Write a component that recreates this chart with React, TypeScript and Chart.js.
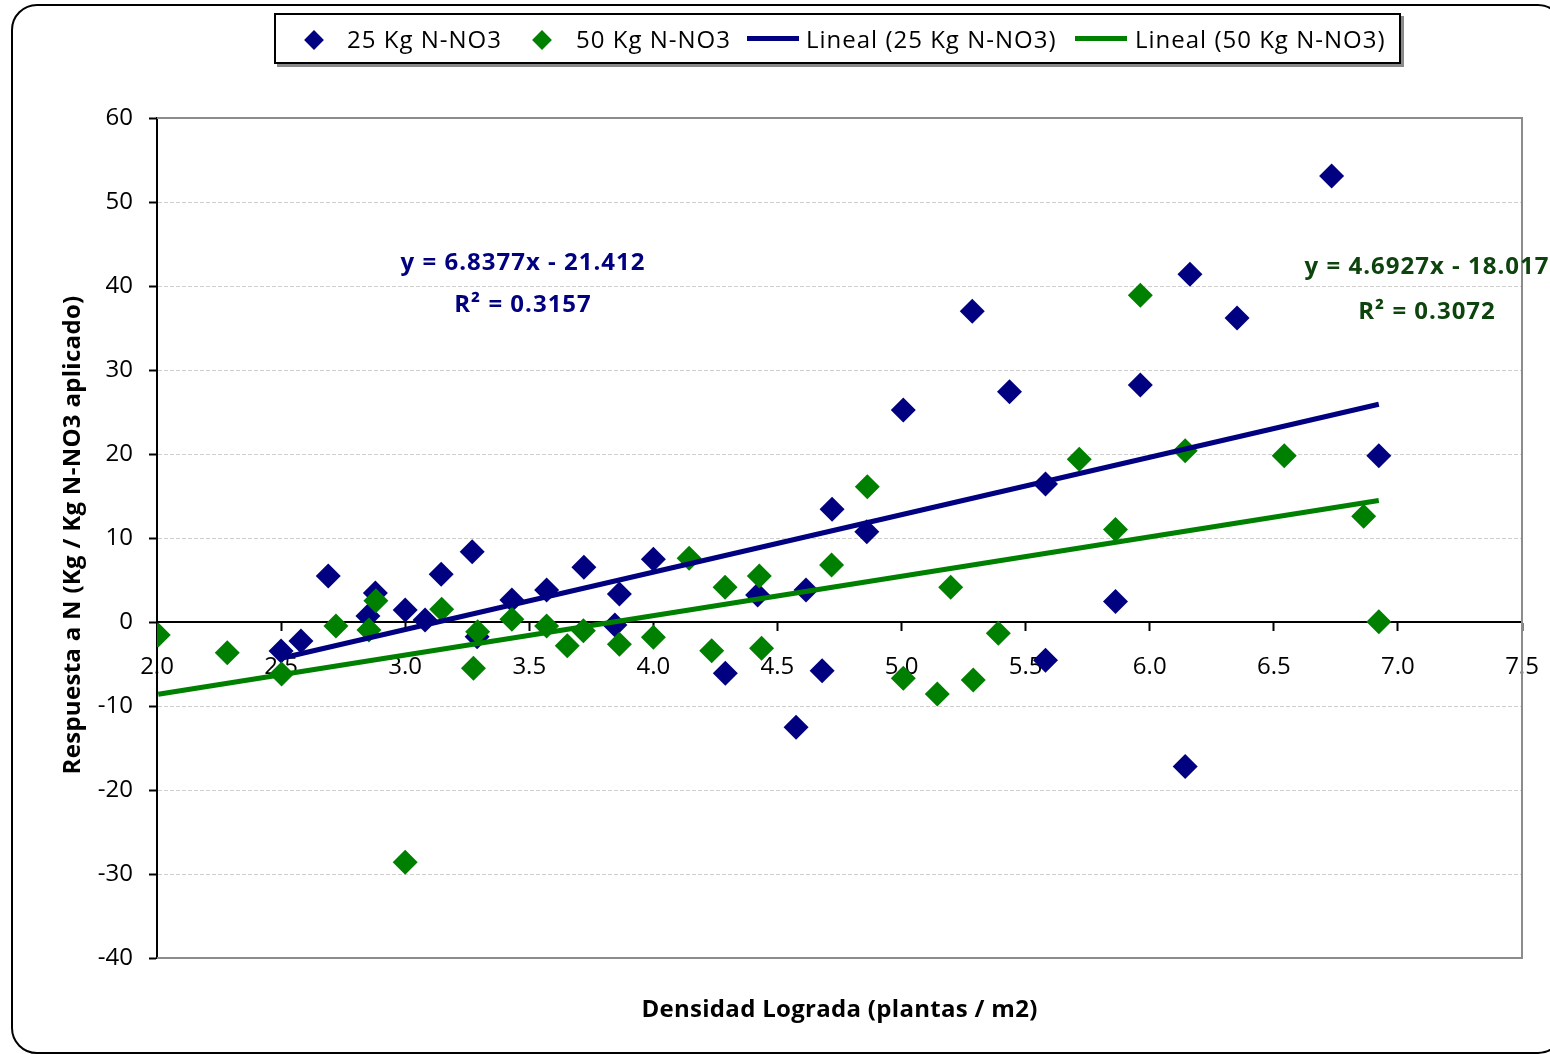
import React, { useEffect, useRef } from "react";
import { Chart, registerables } from "chart.js";

Chart.register(...registerables);

// ---- data ----
const series25X = [2.50, 2.58, 2.69, 2.85, 2.88, 3.00, 3.08, 3.145, 3.27, 3.29, 3.43, 3.57, 3.72, 3.845, 3.863, 4.00, 4.29, 4.42, 4.575, 4.615, 4.68, 4.72, 4.86, 5.007, 5.285, 5.435, 5.58, 5.58, 5.862, 5.962, 6.143, 6.162, 6.352, 6.733, 6.923];
const series25Y = [-3.45, -2.26, 5.48, 0.71, 3.45, 1.43, 0.24, 5.67, 8.37, -1.75, 2.62, 3.81, 6.51, -0.36, 3.33, 7.46, -6.11, 3.21, -12.54, 3.81, -5.79, 13.41, 10.75, 25.24, 37.0, 27.4, 16.43, -4.55, 2.44, 28.2, -17.2, 41.4, 36.2, 53.1, 19.8];

const series50X = [2.005, 2.283, 2.502, 2.721, 2.854, 2.882, 3.0, 3.147, 3.275, 3.292, 3.43, 3.57, 3.653, 3.718, 3.863, 4.0, 4.144, 4.235, 4.289, 4.427, 4.436, 4.718, 4.862, 5.007, 5.144, 5.198, 5.289, 5.39, 5.716, 5.862, 5.962, 6.143, 6.542, 6.862, 6.923];
const series50Y = [-1.55, -3.65, -6.19, -0.48, -0.95, 2.54, -28.6, 1.51, -5.5, -1.15, 0.32, -0.48, -2.82, -1.03, -2.66, -1.83, 7.58, -3.41, 4.13, 5.48, -3.13, 6.79, 16.11, -6.71, -8.57, 4.13, -6.9, -1.35, 19.37, 11.0, 38.9, 20.4, 19.8, 12.6, 0.02];

const trend25 = [6.8377, -21.412]; // slope, intercept
const trend50 = [4.6927, -18.017];

const seriesLabels = ["25 Kg N-NO3", "50 Kg N-NO3", "Lineal (25 Kg N-NO3)", "Lineal (50 Kg N-NO3)"];
const eqLabels25 = ["y = 6.8377x - 21.412", "R² = 0.3157"];
const eqLabels50 = ["y = 4.6927x - 18.017", "R² = 0.3072"];
const xAxisTitle = "Densidad Lograda (plantas / m2)";
const yAxisTitle = "Respuesta a N (Kg / Kg N-NO3 aplicado)";
const xRange = [2, 7.5, 0.5];
const yRange = [-40, 60, 10];

const BLUE = "#000080";
const GREEN = "#008000";
const EQ_GREEN = "#0d430d";
const FONT = "'Open Sans', 'Noto Sans', sans-serif";

function trendPoints(xs: number[], coef: number[]) {
  const lo = Math.min(...xs);
  const hi = Math.max(...xs);
  return [
    { x: lo, y: coef[0] * lo + coef[1] },
    { x: hi, y: coef[0] * hi + coef[1] },
  ];
}

const decorPlugin = {
  id: "decor",
  beforeDatasetsDraw(chart: any) {
    const { ctx, chartArea: a } = chart;
    ctx.save();
    ctx.strokeStyle = "#8c8c8c";
    ctx.lineWidth = 2;
    ctx.beginPath();
    ctx.moveTo(a.left, a.top);
    ctx.lineTo(a.right, a.top);
    ctx.lineTo(a.right, a.bottom);
    ctx.lineTo(a.left, a.bottom);
    ctx.stroke();
    ctx.restore();
  },
  afterDraw(chart: any) {
    const { ctx, chartArea: a } = chart;
    ctx.save();
    ctx.font = `bold 24px ${FONT}`;
    ctx.textAlign = "center";
    ctx.textBaseline = "alphabetic";
    ctx.fillStyle = "#000";
    (ctx as any).letterSpacing = "0.3px";
    ctx.fillText(xAxisTitle, (a.left + a.right) / 2, 1017);
    ctx.save();
    ctx.translate(80, 535);
    ctx.rotate(-Math.PI / 2);
    ctx.fillText(yAxisTitle, 0, 0);
    ctx.restore();
    (ctx as any).letterSpacing = "1px";
    ctx.fillStyle = BLUE;
    ctx.fillText(eqLabels25[0], 523, 270);
    ctx.fillText(eqLabels25[1], 523, 312);
    ctx.fillStyle = EQ_GREEN;
    ctx.fillText(eqLabels50[0], 1427, 274);
    ctx.fillText(eqLabels50[1], 1427, 319);
    ctx.restore();
  },
};

function App() {
  const ref = useRef<HTMLCanvasElement | null>(null);
  useEffect(() => {
    if (!ref.current) return;
    Chart.defaults.font.family = FONT;
    const chart = new Chart(ref.current, {
      type: "scatter",
      data: {
        datasets: [
          {
            type: "line",
            label: seriesLabels[2],
            data: trendPoints(series25X, trend25),
            borderColor: BLUE,
            backgroundColor: BLUE,
            borderWidth: 5,
            pointRadius: 0,
            fill: false,
            order: 0,
          },
          {
            type: "line",
            label: seriesLabels[3],
            data: trendPoints(series50X, trend50),
            borderColor: GREEN,
            backgroundColor: GREEN,
            borderWidth: 5,
            pointRadius: 0,
            fill: false,
            order: 0,
          },
          {
            label: seriesLabels[1],
            data: series50X.map((x, i) => ({ x, y: series50Y[i] })),
            pointStyle: "rectRot",
            pointRadius: 12.5,
            backgroundColor: GREEN,
            borderColor: GREEN,
            borderWidth: 0,
            order: 1,
          },
          {
            label: seriesLabels[0],
            data: series25X.map((x, i) => ({ x, y: series25Y[i] })),
            pointStyle: "rectRot",
            pointRadius: 12.5,
            backgroundColor: BLUE,
            borderColor: BLUE,
            borderWidth: 0,
            order: 2,
          },
        ] as any,
      },
      options: {
        animation: false,
        responsive: false,
        maintainAspectRatio: false,
        layout: { padding: { top: 118, right: 28, bottom: 96, left: 0 } },
        plugins: { legend: { display: false }, tooltip: { enabled: false } },
        scales: {
          x: {
            type: "linear",
            position: { y: 0 } as any,
            min: xRange[0],
            max: xRange[1],
            ticks: {
              stepSize: xRange[2],
              autoSkip: false,
              maxRotation: 0,
              padding: 23,
              color: "#000",
              font: { size: 24 },
              callback: (v: any) => Number(v).toFixed(1),
            },
            grid: { drawOnChartArea: false, tickColor: "#000", tickLength: 8, tickWidth: 2 },
            border: { color: "#000", width: 2 },
            afterFit: (s: any) => {
              s.paddingLeft = 0;
              s.paddingRight = 0;
            },
          },
          y: {
            type: "linear",
            position: "left",
            min: yRange[0],
            max: yRange[1],
            ticks: { stepSize: yRange[2], padding: 16, color: "#000", font: { size: 24 } },
            grid: { color: "#cfcfcf", lineWidth: 1, tickColor: "#000", tickLength: 8, tickWidth: 2 },
            border: { color: "#000", width: 2, dash: [4, 2] },
            afterFit: (s: any) => {
              s.width = 157;
              s.paddingTop = 0;
              s.paddingBottom = 0;
            },
          },
        },
      },
      plugins: [decorPlugin],
    });
    return () => chart.destroy();
  }, []);

  const legendText: React.CSSProperties = {
    position: "absolute",
    top: 22,
    fontFamily: FONT,
    fontSize: 24,
    lineHeight: "34px",
    letterSpacing: "1px",
    color: "#000",
    whiteSpace: "nowrap",
  };
  const diamond = (cx: number, color: string): React.CSSProperties => ({
    position: "absolute",
    left: cx - 7,
    top: 40 - 7,
    width: 14,
    height: 14,
    background: color,
    transform: "rotate(45deg)",
  });
  const lineMark = (left: number, color: string): React.CSSProperties => ({
    position: "absolute",
    left,
    top: 36,
    width: 52,
    height: 5,
    background: color,
  });

  return (
    <div style={{ position: "absolute", left: 0, top: 0, width: 1550, height: 1054, overflow: "hidden", background: "#fff" }}>
      <div
        style={{
          position: "absolute",
          left: 11,
          top: 4,
          width: 1553,
          height: 1050,
          border: "2px solid #000",
          borderRadius: 26,
          boxSizing: "border-box",
        }}
      />
      <canvas ref={ref} width={1550} height={1054} style={{ position: "absolute", left: 0, top: 0, width: 1550, height: 1054 }} />
      <div
        style={{
          position: "absolute",
          left: 274,
          top: 13,
          width: 1127,
          height: 51,
          border: "2px solid #000",
          boxSizing: "border-box",
          boxShadow: "3px 3px 0 #8a8a8a",
          background: "#fff",
        }}
      />
      <div style={diamond(314, BLUE)} />
      <span style={{ ...legendText, left: 347 }}>{seriesLabels[0]}</span>
      <div style={diamond(542, GREEN)} />
      <span style={{ ...legendText, left: 576 }}>{seriesLabels[1]}</span>
      <div style={lineMark(747, BLUE)} />
      <span style={{ ...legendText, left: 806 }}>{seriesLabels[2]}</span>
      <div style={lineMark(1075, GREEN)} />
      <span style={{ ...legendText, left: 1135 }}>{seriesLabels[3]}</span>
    </div>
  );
}

export default App;
